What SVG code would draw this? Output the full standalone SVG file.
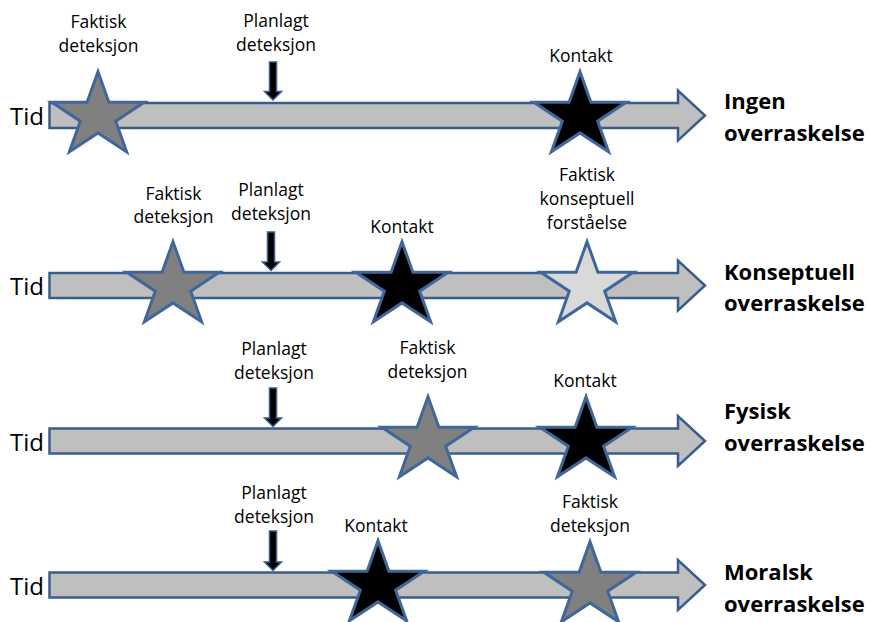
<svg xmlns="http://www.w3.org/2000/svg" xmlns:xlink="http://www.w3.org/1999/xlink" width="869" height="622" viewBox="0 0 869 622">
<style>
.bar{fill:#BFBFBF;stroke:#385D8A;stroke-width:2.5;stroke-linejoin:miter}
.star{stroke:#41679A;stroke-width:3;stroke-linejoin:miter}
.gray{fill:#808080}.black{fill:#000}.light{fill:#D9D9D9}
.pa{fill:#000;stroke:#385D8A;stroke-width:1.5}
.lbl{font-family:"Open Sans","Liberation Sans",sans-serif;font-size:17.5px;fill:#000;text-anchor:middle}
.tid{font-family:"Open Sans","Liberation Sans",sans-serif;font-size:24px;fill:#000}
.ttl{font-family:"Open Sans","Liberation Sans",sans-serif;font-size:22px;font-weight:bold;fill:#000}
</style>
<defs>
<path id="star" d="M0,-44.2 L10.9,-13.7 L46.2,-13.7 L17.7,5.2 L28.6,35.8 L0,16.9 L-28.6,35.8 L-17.7,5.2 L-46.2,-13.7 L-10.9,-13.7 Z"/>
</defs>

<!-- Row 1 -->
<g id="row1">
<g id="timeline1"><polygon class="bar" points="49.5,103 678,103 678,90.5 705,115.5 678,140.5 678,128 49.5,128"/>
<text class="tid" x="10" y="125">Tid</text></g>
<g id="r1-faktisk"><use href="#star" class="star gray" x="98" y="116"/>
<text class="lbl" x="98.5" y="28">Faktisk</text><text class="lbl" x="98.5" y="51.5">deteksjon</text></g>
<g id="r1-planlagt"><text class="lbl" x="276" y="26.5">Planlagt</text><text class="lbl" x="276" y="51">deteksjon</text></g>
<g id="r1-kontakt"><use href="#star" class="star black" x="580" y="116"/>
<text class="lbl" x="581" y="61.5">Kontakt</text></g>
<g id="r1-title"><text class="ttl" x="724" y="109">Ingen</text><text class="ttl" x="724" y="141">overraskelse</text></g>
</g>

<!-- Row 2 -->
<g id="row2">
<g id="timeline2"><polygon class="bar" points="49.5,273 678,273 678,260.5 705,285.5 678,310.5 678,298 49.5,298"/>
<text class="tid" x="10" y="295">Tid</text></g>
<g id="r2-faktisk"><use href="#star" class="star gray" x="173" y="286"/>
<text class="lbl" x="173.5" y="199.5">Faktisk</text><text class="lbl" x="173.5" y="223">deteksjon</text></g>
<g id="r2-planlagt"><text class="lbl" x="271" y="195.5">Planlagt</text><text class="lbl" x="271" y="220">deteksjon</text></g>
<g id="r2-kontakt"><use href="#star" class="star black" x="402" y="286"/>
<text class="lbl" x="402" y="233">Kontakt</text></g>
<g id="r2-forstaelse"><use href="#star" class="star light" x="587" y="286"/>
<text class="lbl" x="587" y="180.5">Faktisk</text><text class="lbl" x="587" y="204.5">konseptuell</text><text class="lbl" x="587" y="228.5">forståelse</text></g>
<g id="r2-title"><text class="ttl" x="724" y="280">Konseptuell</text><text class="ttl" x="724" y="311">overraskelse</text></g>
</g>

<!-- Row 3 -->
<g id="row3">
<g id="timeline3"><polygon class="bar" points="49.5,428.5 678,428.5 678,416 705,441 678,466 678,453.5 49.5,453.5"/>
<text class="tid" x="10" y="450.5">Tid</text></g>
<g id="r3-planlagt"><text class="lbl" x="274" y="355">Planlagt</text><text class="lbl" x="274" y="379">deteksjon</text></g>
<g id="r3-faktisk"><use href="#star" class="star gray" x="428" y="441"/>
<text class="lbl" x="427.5" y="353.5">Faktisk</text><text class="lbl" x="427.5" y="378">deteksjon</text></g>
<g id="r3-kontakt"><use href="#star" class="star black" x="586" y="441"/>
<text class="lbl" x="585" y="386.5">Kontakt</text></g>
<g id="r3-title"><text class="ttl" x="724" y="419">Fysisk</text><text class="ttl" x="724" y="451">overraskelse</text></g>
</g>

<!-- Row 4 -->
<g id="row4">
<g id="timeline4"><polygon class="bar" points="49.5,572.5 678,572.5 678,560 705,585 678,610 678,597.5 49.5,597.5"/>
<text class="tid" x="10" y="594.5">Tid</text></g>
<g id="r4-planlagt"><text class="lbl" x="274" y="498.5">Planlagt</text><text class="lbl" x="274" y="522.5">deteksjon</text></g>
<g id="r4-kontakt"><use href="#star" class="star black" x="378" y="585"/>
<text class="lbl" x="376" y="531.5">Kontakt</text></g>
<g id="r4-faktisk"><use href="#star" class="star gray" x="590" y="586"/>
<text class="lbl" x="590" y="508">Faktisk</text><text class="lbl" x="590" y="532">deteksjon</text></g>
<g id="r4-title"><text class="ttl" x="724" y="580">Moralsk</text><text class="ttl" x="724" y="612">overraskelse</text></g>
</g>

<!-- Connectors: planned detection arrows -->
<g id="connectors">
<polygon class="pa" points="269.5,62 276.5,62 276.5,91.5 281.5,91.5 273,100 264.5,91.5 269.5,91.5"/>
<polygon class="pa" points="267.5,232 274.5,232 274.5,262 279.5,262 271,270.5 262.5,262 267.5,262"/>
<polygon class="pa" points="269.5,388 276.5,388 276.5,418 281.5,418 273,426.5 264.5,418 269.5,418"/>
<polygon class="pa" points="269.5,531 276.5,531 276.5,562 281.5,562 273,570.5 264.5,562 269.5,562"/>
</g>
</svg>
